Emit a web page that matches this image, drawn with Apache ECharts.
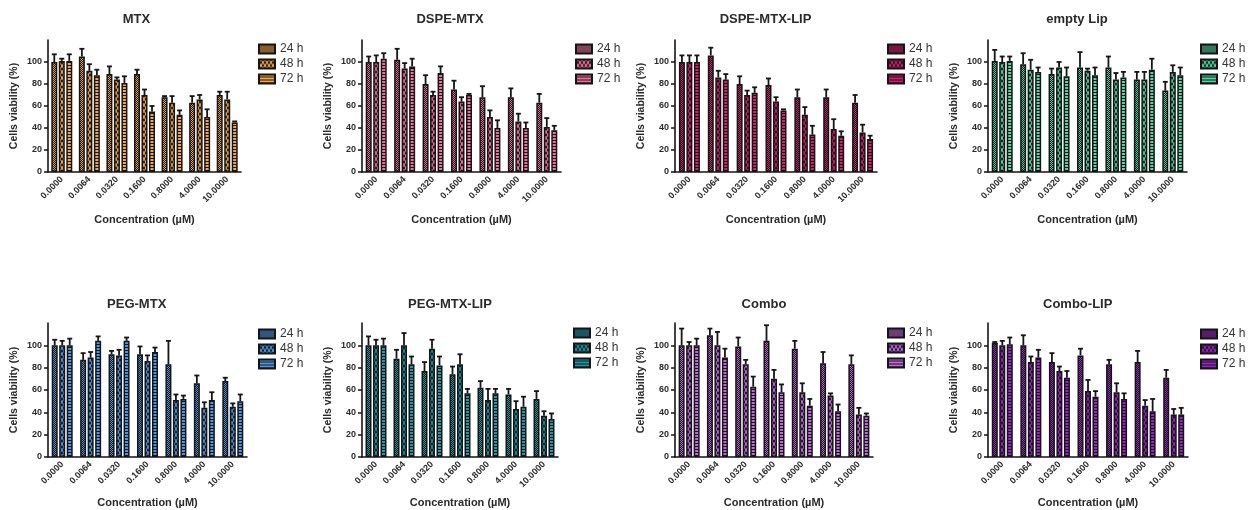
<!DOCTYPE html>
<html>
<head>
<meta charset="utf-8">
<script src="https://cdn.jsdelivr.net/npm/echarts@6/dist/echarts.min.js"></script>
<style>
html,body{margin:0;padding:0;background:#fff;}
#chart{width:1250px;height:510px;}
</style>
</head>
<body>
<div id="chart"></div>
<script>
// ---------------- DATA ----------------
const categories = ['0.0000', '0.0064', '0.0320', '0.1600', '0.8000', '4.0000', '10.0000'];
const timePoints = ['24 h', '48 h', '72 h'];
const panelTitles = ['MTX', 'DSPE-MTX', 'DSPE-MTX-LIP', 'empty Lip', 'PEG-MTX', 'PEG-MTX-LIP', 'Combo', 'Combo-LIP'];
const yTicks = [0, 20, 40, 60, 80, 100];

// MTX
const MTX_24 = [100, 105, 89, 89, 68, 63, 70];
const MTX_24_err = [7, 7, 7, 4, 1, 6, 3];
const MTX_48 = [101, 92, 84, 70, 63, 66, 66];
const MTX_48_err = [2, 6, 2, 5, 6, 4, 7];
const MTX_72 = [101, 88, 81, 55, 52, 50, 45];
const MTX_72_err = [6, 5, 6, 5, 4, 7, 1];
// DSPE-MTX
const DSPE_24 = [100, 102, 80, 75, 68, 68, 63];
const DSPE_24_err = [5, 10, 8, 8, 10, 8, 8];
const DSPE_48 = [100, 94, 70, 64, 50, 46, 41];
const DSPE_48_err = [6, 5, 3, 4, 6, 7, 8];
const DSPE_72 = [103, 96, 90, 70, 40, 40, 38];
const DSPE_72_err = [5, 7, 6, 1, 7, 5, 4];
// DSPE-MTX-LIP
const DSPELIP_24 = [100, 106, 80, 79, 68, 68, 63];
const DSPELIP_24_err = [6, 7, 7, 6, 7, 7, 7];
const DSPELIP_48 = [100, 86, 70, 64, 52, 39, 36];
const DSPELIP_48_err = [6, 6, 4, 4, 7, 9, 7];
const DSPELIP_72 = [100, 84, 72, 56, 34, 33, 30];
const DSPELIP_72_err = [6, 5, 5, 1, 8, 4, 3];
// empty Lip
const EMPTY_24 = [101, 98, 89, 95, 95, 84, 74];
const EMPTY_24_err = [10, 10, 5, 14, 10, 7, 8];
const EMPTY_48 = [100, 93, 95, 92, 84, 84, 91];
const EMPTY_48_err = [5, 9, 5, 2, 6, 7, 6];
const EMPTY_72 = [101, 91, 87, 88, 86, 93, 88];
const EMPTY_72_err = [4, 4, 8, 7, 5, 10, 7];
// PEG-MTX
const PEG_24 = [100, 87, 92, 92, 83, 66, 68];
const PEG_24_err = [5, 6, 3, 7, 21, 7, 3];
const PEG_48 = [100, 89, 91, 86, 51, 44, 45];
const PEG_48_err = [4, 5, 5, 5, 5, 5, 3];
const PEG_72 = [100, 104, 104, 94, 52, 51, 50];
const PEG_72_err = [6, 4, 3, 4, 3, 7, 6];
// PEG-MTX-LIP
const PEGLIP_24 = [100, 88, 77, 74, 62, 56, 52];
const PEGLIP_24_err = [8, 8, 8, 7, 6, 5, 7];
const PEGLIP_48 = [100, 100, 97, 83, 51, 43, 37];
const PEGLIP_48_err = [5, 11, 8, 9, 10, 7, 4];
const PEGLIP_72 = [100, 83, 82, 57, 57, 45, 34];
const PEGLIP_72_err = [6, 7, 8, 4, 4, 9, 5];
// Combo
const COMBO_24 = [100, 109, 99, 104, 97, 84, 83];
const COMBO_24_err = [15, 6, 8, 14, 7, 10, 8];
const COMBO_48 = [100, 100, 83, 70, 58, 55, 38];
const COMBO_48_err = [3, 12, 4, 8, 8, 2, 6];
const COMBO_72 = [100, 89, 63, 58, 46, 41, 37];
const COMBO_72_err = [6, 8, 9, 7, 6, 6, 2];
// Combo-LIP
const COMBOLIP_24 = [102, 100, 85, 91, 83, 85, 71];
const COMBOLIP_24_err = [1, 9, 8, 6, 4, 10, 7];
const COMBOLIP_48 = [100, 85, 77, 59, 58, 46, 38];
const COMBOLIP_48_err = [4, 5, 4, 10, 8, 5, 5];
const COMBOLIP_72 = [101, 89, 71, 54, 52, 41, 38];
const COMBOLIP_72_err = [6, 7, 6, 5, 5, 11, 6];

const panelValues = [
  [MTX_24, MTX_48, MTX_72],
  [DSPE_24, DSPE_48, DSPE_72],
  [DSPELIP_24, DSPELIP_48, DSPELIP_72],
  [EMPTY_24, EMPTY_48, EMPTY_72],
  [PEG_24, PEG_48, PEG_72],
  [PEGLIP_24, PEGLIP_48, PEGLIP_72],
  [COMBO_24, COMBO_48, COMBO_72],
  [COMBOLIP_24, COMBOLIP_48, COMBOLIP_72]
];
const panelErrors = [
  [MTX_24_err, MTX_48_err, MTX_72_err],
  [DSPE_24_err, DSPE_48_err, DSPE_72_err],
  [DSPELIP_24_err, DSPELIP_48_err, DSPELIP_72_err],
  [EMPTY_24_err, EMPTY_48_err, EMPTY_72_err],
  [PEG_24_err, PEG_48_err, PEG_72_err],
  [PEGLIP_24_err, PEGLIP_48_err, PEGLIP_72_err],
  [COMBO_24_err, COMBO_48_err, COMBO_72_err],
  [COMBOLIP_24_err, COMBOLIP_48_err, COMBOLIP_72_err]
];

// ---------------- STYLE / LAYOUT ----------------
const panelColors = ['#f7a547', '#f56e9c', '#d81b6a', '#4fd9a4', '#4d97e8', '#1b9aaa', '#c466e6', '#a020d0'];
const DARK = '#151515';
const FONT = '"Liberation Sans", Arial, sans-serif';
const TEXT = '#2a2a2a';
const BAR_W = 6;
const BAR_GAP = 0.25;
const STEP = BAR_W * (1 + BAR_GAP);

const gridsLayout = [
  {left: 48, top: 40, width: 193, height: 132},
  {left: 362, top: 40, width: 199, height: 132},
  {left: 675, top: 40, width: 202, height: 132},
  {left: 988, top: 40, width: 199, height: 132},
  {left: 48, top: 323, width: 199, height: 134},
  {left: 362, top: 323, width: 196, height: 134},
  {left: 675, top: 323, width: 198, height: 134},
  {left: 988, top: 323, width: 200, height: 134}
];
const titleCenters = [[136.5, 13], [450, 13], [765.5, 13], [1077, 13], [136.7, 298], [450, 298], [764, 298], [1077.7, 298]];
const legendPos = [[258, 43], [575, 43], [887, 43], [1200, 43], [258, 328], [573, 327], [887, 327], [1200, 328]];

function makePattern(color, kind) {
  const c = document.createElement('canvas');
  const ctx = c.getContext('2d');
  if (kind === 0) {
    c.width = 2; c.height = 2;
    ctx.fillStyle = color; ctx.fillRect(0, 0, 2, 2);
    ctx.fillStyle = DARK; ctx.fillRect(1, 0, 1, 1); ctx.fillRect(0, 1, 1, 1);
  } else if (kind === 1) {
    c.width = 4; c.height = 6;
    ctx.fillStyle = DARK; ctx.fillRect(0, 0, 4, 6);
    ctx.strokeStyle = color; ctx.lineWidth = 1.2;
    ctx.beginPath();
    ctx.moveTo(0, 3); ctx.lineTo(2, 0); ctx.lineTo(4, 3); ctx.lineTo(2, 6); ctx.closePath();
    ctx.stroke();
  } else {
    c.width = 1; c.height = 3;
    ctx.fillStyle = color; ctx.fillRect(0, 0, 1, 3);
    ctx.fillStyle = DARK; ctx.fillRect(0, 2, 1, 1);
  }
  return {image: c, repeat: 'repeat'};
}

const grid = [], xAxis = [], yAxis = [], series = [], title = [], legend = [];
panelTitles.forEach((pt, p) => {
  const row = p < 4 ? 0 : 1;
  grid.push(Object.assign({containLabel: false}, gridsLayout[p]));
  title.push({
    text: pt, left: titleCenters[p][0], top: titleCenters[p][1], textAlign: 'center', padding: 0,
    textStyle: {fontFamily: FONT, fontSize: 13, fontWeight: 'bold', color: TEXT}
  });
  xAxis.push({
    type: 'category', gridIndex: p, data: categories,
    axisLine: {lineStyle: {color: DARK, width: 1.6}},
    axisTick: {alignWithLabel: true, length: 4, lineStyle: {color: DARK, width: 1.5}},
    axisLabel: {rotate: 45, interval: 0, fontSize: 9, fontWeight: 'bold', color: TEXT, fontFamily: FONT, margin: 6},
    name: 'Concentration (µM)', nameLocation: 'middle', nameGap: row === 0 ? 42 : 40,
    nameTextStyle: {fontFamily: FONT, fontSize: 11, fontWeight: 'bold', color: TEXT}
  });
  yAxis.push({
    type: 'value', gridIndex: p, min: 0, max: 120, interval: 20,
    axisLine: {show: true, lineStyle: {color: DARK, width: 1.6}},
    axisTick: {show: true, length: 4, lineStyle: {color: DARK, width: 1.5}, customValues: yTicks},
    axisLabel: {customValues: yTicks, fontSize: 9, fontWeight: 'bold', color: TEXT, fontFamily: FONT, margin: 6,
      formatter: v => (v > 100 ? '' : String(v))},
    splitLine: {show: false},
    name: 'Cells viability (%)', nameLocation: 'middle', nameGap: 28,
    nameTextStyle: {fontFamily: FONT, fontSize: 10.5, fontWeight: 'bold', color: TEXT}
  });
  const names = timePoints.map(t => pt + '|' + t);
  names.forEach((nm, k) => {
    series.push({
      type: 'bar', name: nm, xAxisIndex: p, yAxisIndex: p,
      data: panelValues[p][k],
      barWidth: BAR_W, barGap: (BAR_GAP * 100) + '%',
      itemStyle: {color: makePattern(panelColors[p], k), borderColor: DARK, borderWidth: 1.5},
      emphasis: {disabled: true}, animation: false
    });
  });
  const errData = [];
  for (let k = 0; k < 3; k++) {
    panelValues[p][k].forEach((v, i) => errData.push([i, v, panelErrors[p][k][i], k]));
  }
  series.push({
    type: 'custom', xAxisIndex: p, yAxisIndex: p, data: errData, z: 3, animation: false, silent: true,
    renderItem: (params, api) => {
      const i = api.value(0), v = api.value(1), e = api.value(2), k = api.value(3);
      const x = api.coord([i, v])[0] + (k - 1) * STEP;
      const y1 = api.coord([i, v])[1];
      const y2 = api.coord([i, v + e])[1];
      const st = {stroke: DARK, lineWidth: 1.8};
      return {type: 'group', children: [
        {type: 'line', shape: {x1: x, y1: y1, x2: x, y2: y2}, style: st},
        {type: 'line', shape: {x1: x - 2.5, y1: y2, x2: x + 2.5, y2: y2}, style: st}
      ]};
    }
  });
  legend.push({
    data: names, orient: 'vertical', left: legendPos[p][0], top: legendPos[p][1], padding: 0,
    itemWidth: 16, itemHeight: 9, itemGap: 3, icon: 'rect', selectedMode: false,
    formatter: n => n.split('|')[1],
    textStyle: {fontFamily: FONT, fontSize: 12, color: '#333'}
  });
});

const chart = echarts.init(document.getElementById('chart'), null, {renderer: 'canvas'});
chart.setOption({animation: false, backgroundColor: '#fff', title, legend, grid, xAxis, yAxis, series});
</script>
</body>
</html>
